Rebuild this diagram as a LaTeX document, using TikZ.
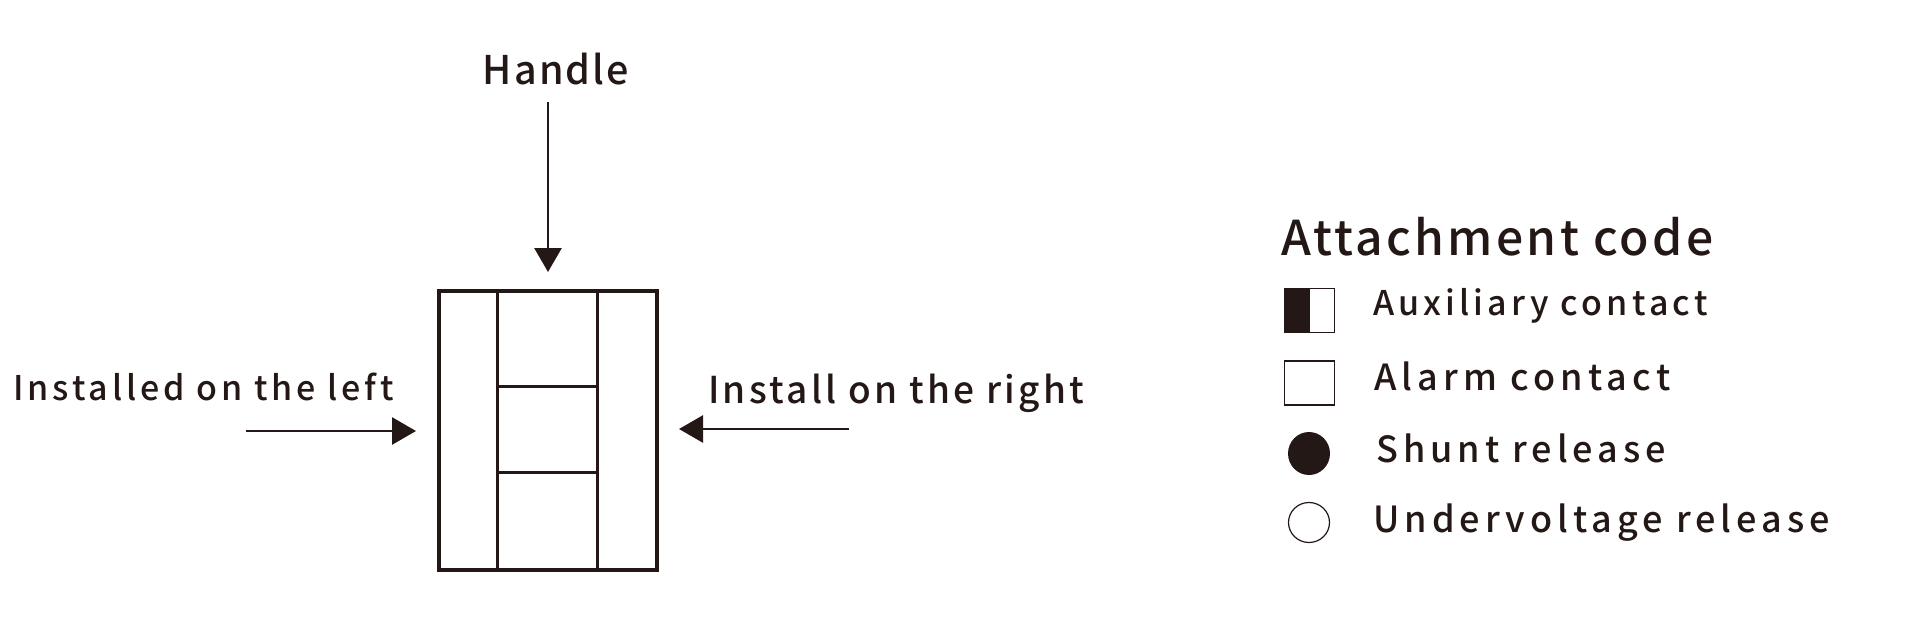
\documentclass[tikz,border=0pt]{standalone}
\usepackage{fontspec}
\setmainfont{Noto Sans CJK SC Medium}
\usetikzlibrary{arrows.meta,shapes.geometric}
\definecolor{ink}{RGB}{35,24,21}
\newcommand\tfont[2]{\fontsize{#1}{#1}\selectfont\addfontfeatures{LetterSpace=#2}}
\begin{document}
\begin{tikzpicture}[x=1pt,y=-1pt,
  txt/.style={anchor=base west,inner sep=0,text=ink},
  arr/.style={draw=ink,line width=2.7pt,-{Triangle[length=24pt,width=27pt]}},
  frame/.style={draw=ink,line width=3.3pt},
  sym/.style={draw=ink,line width=1.2pt,inner sep=0,minimum width=50pt,minimum height=44pt},
]
\useasboundingbox[fill=white] (0,0) rectangle (1930,624);

% breaker outline
\node[frame,inner sep=0,minimum width=218pt,minimum height=279pt] (box) at (548,430.5) {};
\draw[frame] (497.7,291) -- (497.7,570);
\draw[frame] (597.3,291) -- (597.3,570);
\draw[frame] (497.7,386.7) -- (597.3,386.7);
\draw[frame] (497.7,472.7) -- (597.3,472.7);

% handle
\node[txt,anchor=base,font=\tfont{39.5}{5.5}] (handle) at (556,84) {Handle};
\coordinate (hs) at (548,102);
\draw[arr,shorten >=17.35pt] (hs) -- (box.north);

% left
\node[txt,font=\tfont{34}{11.5}] (left) at (13,400) {Installed on the left};
\coordinate (ls) at (246,431);
\draw[arr,shorten >=21.35pt] (ls) -- (ls -| box.west);

% right
\node[txt,font=\tfont{37}{9}] (right) at (708,403) {Install on the right};
\coordinate (rs) at (849,429);
\draw[arr,shorten >=20.35pt] (rs) -- (rs -| box.east);

% legend
\node[txt,font=\tfont{48}{6.8}] (title) at (1281,255) {Attachment code};
\node[sym,path picture={\fill[ink] (path picture bounding box.north west) rectangle (path picture bounding box.south);}] (aux) at (1309.5,310.5) {};
\node[txt,font=\tfont{34}{12.3}] (auxt) at (1373,315) {Auxiliary contact};
\node[sym] (alarm) at (1309.5,383) {};
\node[txt,font=\tfont{36}{14.3}] (alarmt) at (1374,390) {Alarm contact};
\node[ellipse,fill=ink,inner sep=0,minimum width=42pt,minimum height=43pt] (shunt) at (1309,453.5) {};
\node[txt,font=\tfont{36}{13.8}] (shuntt) at (1376,462) {Shunt release};
\node[ellipse,draw=ink,line width=1.2pt,inner sep=0,minimum width=41pt,minimum height=40pt] (under) at (1309,522.5) {};
\node[txt,font=\tfont{36}{14}] (undert) at (1373,532) {Undervoltage release};
\end{tikzpicture}
\end{document}
